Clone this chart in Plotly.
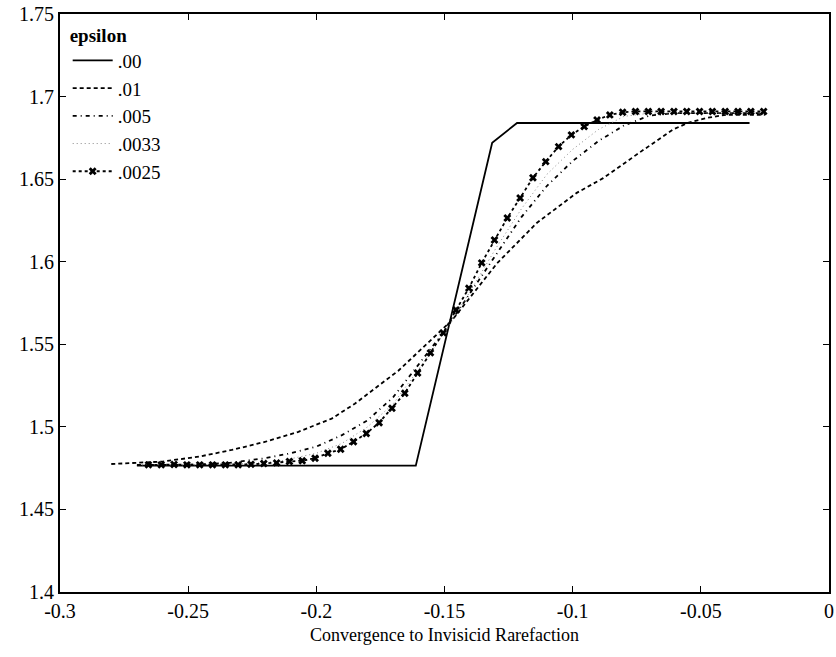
import plotly.graph_objects as go

# ---- data ----
x_e00 = [-0.27, -0.1612, -0.1314, -0.1217, -0.031]
y_e00 = [1.4765, 1.4765, 1.672, 1.684, 1.684]

x_e01 = [-0.28, -0.26, -0.2457, -0.233, -0.2198, -0.207, -0.194, -0.185, -0.168,
         -0.147, -0.1295, -0.114, -0.0984, -0.0881, -0.074, -0.0609, -0.0547,
         -0.048, -0.04, -0.025]
y_e01 = [1.4775, 1.479, 1.482, 1.486, 1.491, 1.497, 1.505, 1.514, 1.534,
         1.5647, 1.599, 1.6235, 1.6417, 1.6506, 1.666, 1.680, 1.6843,
         1.687, 1.689, 1.689]

x_e005 = [-0.27, -0.25, -0.235, -0.22, -0.21, -0.2, -0.19, -0.18, -0.17, -0.16,
          -0.15, -0.14, -0.13, -0.12, -0.11, -0.1, -0.09, -0.08, -0.07, -0.06,
          -0.025]
y_e005 = [1.477, 1.477, 1.478, 1.481, 1.484, 1.488, 1.495, 1.504, 1.518, 1.538,
          1.558, 1.581, 1.604, 1.627, 1.646, 1.661, 1.673, 1.6825, 1.6885, 1.690,
          1.690]

x_e0033 = [-0.268, -0.25, -0.23, -0.215, -0.2, -0.19, -0.18, -0.17, -0.16, -0.15,
           -0.14, -0.13, -0.12, -0.11, -0.1, -0.09, -0.08, -0.07, -0.025]
y_e0033 = [1.477, 1.477, 1.4775, 1.479, 1.484, 1.490, 1.500, 1.514, 1.535, 1.557,
           1.582, 1.608, 1.632, 1.653, 1.668, 1.680, 1.688, 1.690, 1.690]

x_e0025 = [-0.2655, -0.2605, -0.2555, -0.2505, -0.2455, -0.2405, -0.2355, -0.2305,
           -0.2255, -0.2205, -0.2155, -0.2105, -0.2055, -0.2005, -0.1955, -0.1905,
           -0.1855, -0.1805, -0.1755, -0.1705, -0.1655, -0.1605, -0.1555, -0.1505,
           -0.1455, -0.1405, -0.1355, -0.1305, -0.1255, -0.1205, -0.1155, -0.1105,
           -0.1055, -0.1005, -0.0955, -0.0905, -0.0855, -0.0805, -0.0755, -0.0705,
           -0.0655, -0.0605, -0.0555, -0.0505, -0.0455, -0.0405, -0.0355, -0.0305,
           -0.0255]
y_e0025 = [1.477, 1.477, 1.4772, 1.477, 1.477, 1.477, 1.477, 1.477,
           1.4773, 1.4778, 1.4782, 1.479, 1.4795, 1.481, 1.484, 1.4864,
           1.491, 1.496, 1.5025, 1.5113, 1.5204, 1.5326, 1.5448, 1.5569,
           1.5708, 1.584, 1.5993, 1.6132, 1.6265, 1.6386, 1.6508, 1.6606,
           1.6697, 1.6768, 1.6818, 1.6859, 1.6889, 1.6905, 1.691, 1.691,
           1.691, 1.691, 1.691, 1.691, 1.691, 1.691, 1.691, 1.691,
           1.691]

x_ticks = [-0.3, -0.25, -0.2, -0.15, -0.1, -0.05, 0]
x_ticktext = ["-0.3", "-0.25", "-0.2", "-0.15", "-0.1", "-0.05", "0"]
y_ticks = [1.4, 1.45, 1.5, 1.55, 1.6, 1.65, 1.7, 1.75]
y_ticktext = ["1.4", "1.45", "1.5", "1.55", "1.6", "1.65", "1.7", "1.75"]
x_title = "Convergence to Invisicid Rarefaction"

FONT = "Liberation Serif, Times New Roman, serif"

fig = go.Figure()
fig.add_trace(go.Scatter(x=x_e00, y=y_e00, mode="lines", name=".00",
                         line=dict(color="black", width=1.8)))
fig.add_trace(go.Scatter(x=x_e01, y=y_e01, mode="lines", name=".01",
                         line=dict(color="black", width=1.8, dash="4px,3px")))
fig.add_trace(go.Scatter(x=x_e005, y=y_e005, mode="lines", name=".005",
                         line=dict(color="black", width=1.8, dash="4px,4px,1px,4px")))
fig.add_trace(go.Scatter(x=x_e0033, y=y_e0033, mode="lines", name=".0033",
                         line=dict(color="#888888", width=1, dash="1px,3px")))
fig.add_trace(go.Scatter(x=x_e0025, y=y_e0025, mode="lines+markers", name=".0025",
                         line=dict(color="black", width=1.8, dash="3px,3px"),
                         marker=dict(symbol="x", size=7, color="black")))

fig.add_annotation(text=x_title, xref="paper", yref="paper", x=0.5, y=-0.074,
                   xanchor="center", yanchor="middle", showarrow=False,
                   font=dict(size=18, family=FONT, color="black"))

fig.update_layout(
    width=836, height=657,
    margin=dict(l=60, r=2, t=14, b=65),
    paper_bgcolor="white", plot_bgcolor="white",
    font=dict(family=FONT, size=20, color="black"),
    showlegend=True,
    legend=dict(x=0.01, y=0.995, xanchor="left", yanchor="top",
                bgcolor="rgba(0,0,0,0)", borderwidth=0,
                title=dict(text="<b>epsilon</b>", font=dict(size=19)),
                font=dict(size=19), tracegroupgap=0, itemwidth=40),
    xaxis=dict(range=[-0.3, 0], tickvals=x_ticks, ticktext=x_ticktext,
               showgrid=False, zeroline=False, showline=True, linecolor="black",
               linewidth=1.8, mirror="ticks", ticks="inside", ticklen=6,
               tickcolor="black", ticklabeloverflow="allow",
               tickfont=dict(size=20)),
    yaxis=dict(range=[1.4, 1.75], tickvals=y_ticks, ticktext=y_ticktext,
               showgrid=False, zeroline=False, showline=True, linecolor="black",
               linewidth=1.8, mirror="ticks", ticks="inside", ticklen=6,
               tickcolor="black", tickfont=dict(size=20)),
)

fig.write_html("out.html")
